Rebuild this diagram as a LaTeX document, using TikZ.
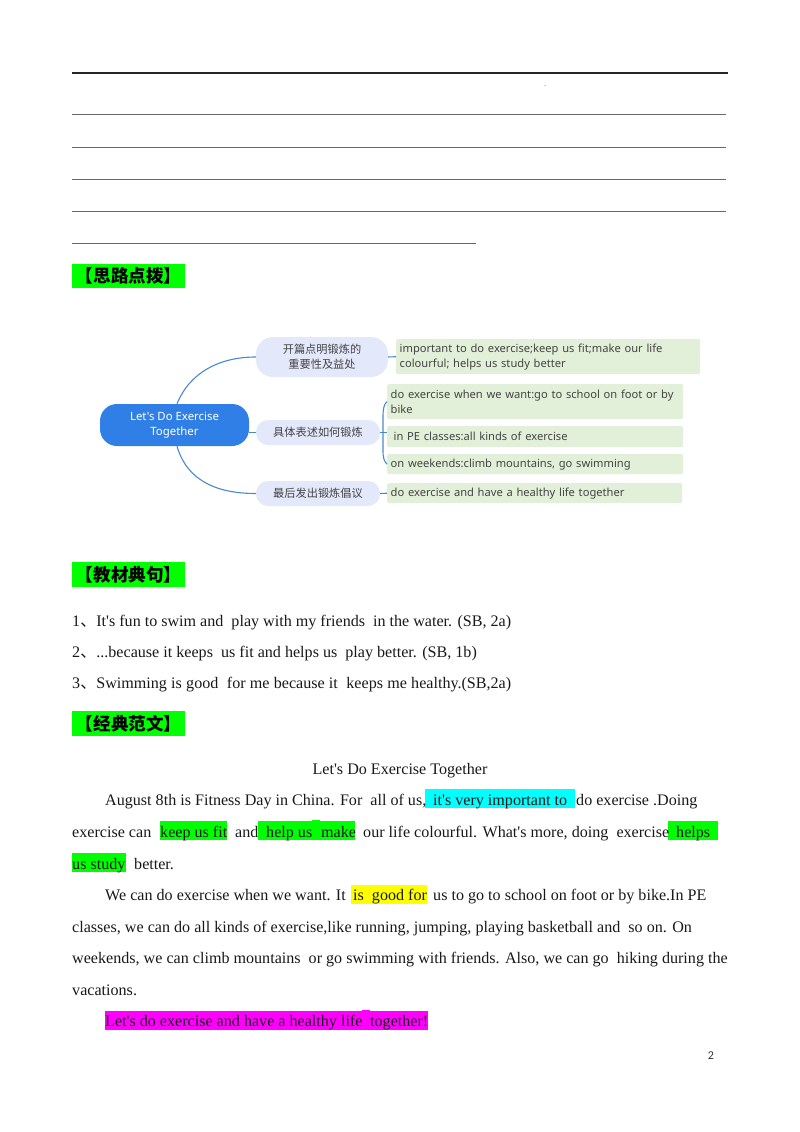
\documentclass[tikz,border=0pt]{standalone}
\usepackage{fontspec}
\setmainfont{Liberation Serif}[Ligatures=TeXOff]
\newfontfamily\cjk{Noto Sans CJK SC}
\newfontfamily\mapfont{Noto Sans}
\newfontfamily\pagefont{Carlito}
\definecolor{hlgreen}{HTML}{00FF00}
\definecolor{hlcyan}{HTML}{00FFFF}
\definecolor{hlyellow}{HTML}{FFFF00}
\definecolor{hlpink}{HTML}{FF00FF}
\definecolor{rootblue}{HTML}{2F7FE6}
\definecolor{branchblue}{HTML}{E3E8FA}
\definecolor{leafgreen}{HTML}{E2F0D9}
\definecolor{linkblue}{HTML}{4A88CC}
\definecolor{mapgray}{HTML}{444444}
\tikzset{
  rulethin/.style={draw=black!60, line width=0.9pt},
  heading/.style={fill=hlgreen, anchor=north west, minimum width=113pt, minimum height=24.5pt, inner sep=0pt, font=\cjk\bfseries\fontsize{17.6}{18}\selectfont},
  bodytext/.style={anchor=base west, inner sep=0pt, font=\fontsize{16.1}{18}\selectfont, text=black!90},
  rootnode/.style={fill=rootblue, text=white, rounded corners=17pt, minimum width=149pt, minimum height=42pt, inner sep=0pt, align=center, font=\mapfont\fontsize{11.4}{15}\selectfont},
  branch/.style={fill=branchblue, text=mapgray, rounded corners=12pt, inner sep=0pt, align=center, font=\cjk\fontsize{11.2}{15}\selectfont},
  leaf/.style={fill=leafgreen, text=mapgray, rounded corners=1.5pt, anchor=north west, inner xsep=3.5pt, inner ysep=0pt, align=left, font=\mapfont\fontsize{11.15}{15}\selectfont},
  link/.style={draw=linkblue, line width=1.1pt}
}
\begin{document}
\begin{tikzpicture}[x=1pt,y=-1pt]
  \useasboundingbox (0,0) rectangle (800,1132);
  % Answer lines
  \draw[black!85, line width=1.4pt] (72,73) -- (728,73);
  \draw[rulethin] (72,114.5) -- (726,114.5);
  \draw[rulethin] (72,147) -- (726,147);
  \draw[rulethin] (72,179) -- (726,179);
  \draw[rulethin] (72,211) -- (726,211);
  \draw[rulethin] (72,243) -- (476,243);
  \fill[black!50] (545,85.5) circle (0.5);

  % Headings
  \node[heading] (headidea) at (72,263.5) {【思路点拨】};
  \node[heading] (headsent) at (72,562) {【教材典句】};
  \node[heading] (headmodel) at (72,711) {【经典范文】};

  % Mind map
  \node[rootnode] (root) at (174.5,425) {Let's Do Exercise\\Together};
  \node[branch, minimum width=132pt, minimum height=40pt, rounded corners=17pt] (open) at (322,357) {开篇点明锻炼的\\重要性及益处};
  \node[branch, minimum width=124pt, minimum height=25pt] (how) at (318,432.5) {具体表述如何锻炼};
  \node[branch, minimum width=124pt, minimum height=25pt] (close) at (318,493.5) {最后发出锻炼倡议};
  \node[leaf, text width=297pt, minimum height=35pt] (why) at (396,339) {important to do exercise;keep us fit;make our life\\colourful; helps us study better};
  \node[leaf, text width=289pt, minimum height=35pt] (when) at (387,384) {do exercise when we want:go to school on foot or by\\bike};
  \node[leaf, text width=289pt, minimum height=21pt] (pe) at (387,426) {\hspace{3pt}in PE classes:all kinds of exercise};
  \node[leaf, text width=289pt, minimum height=20pt] (weekend) at (387,454) {on weekends:climb mountains, go swimming};
  \node[leaf, text width=288pt, minimum height=20pt] (together) at (387,483) {do exercise and have a healthy life together};

  % Links
  \draw[link] (root.north) ++(2.5,0) .. controls (190,372) and (220,357) .. (open.west);
  \draw[link] (root.south) ++(2.5,0) .. controls (188,484) and (222,493.5) .. (close.west);
  \draw[link] (root.east |- how.west) -- (how.west);
  \draw[link] (open.east) -- (why.west);
  \draw[link] (how.east) -- (how.east -| pe.west);
  \draw[link] (close.east) -- (together.west);
  \draw[link] (when.west) .. controls (384,404) and (383,409) .. (383,417) -- (383,450) .. controls (383,458) and (384,461) .. (weekend.west);

  % Sentences
  \node[bodytext] (sentone) at (72,626) {\makebox[439pt][s]{1{\cjk 、}It's fun to swim and\ \ play with my friends\ \ in the water. (SB, 2a)}};
  \node[bodytext] (senttwo) at (72,657) {2{\cjk 、}...because it keeps\ \ us fit and helps us\ \ play better. (SB, 1b)};
  \node[bodytext] (sentthree) at (72,688) {\makebox[439pt][s]{3{\cjk 、}Swimming is good\ \ for me because it\ \ keeps me healthy.(SB,2a)}};

  % Highlights
  \fill[hlcyan] (425,789) rectangle (575,808);
  \fill[hlgreen] (160,821) rectangle (227,840);
  \fill[hlgreen] (258,821) rectangle (355,840);
  \fill[hlgreen] (312,820) rectangle (320,824);
  \fill[hlgreen] (668,821) rectangle (718,840);
  \fill[hlgreen] (72,853) rectangle (126,872);
  \fill[hlyellow] (351,885) rectangle (427,904);
  \fill[hlpink] (105,1011) rectangle (428,1029.5);
  \fill[hlpink] (362,1009.5) rectangle (370,1013);

  % Model essay
  \node[bodytext, anchor=base] (title) at (400,774) {Let's Do Exercise Together};
  \node[bodytext] (aone) at (105,805) {August 8th is Fitness Day in China. For\ \ all of us,};
  \node[bodytext] (atwo) at (433,805) {it's very important to};
  \node[bodytext] (athree) at (576,805) {do exercise .Doing};
  \node[bodytext] (bone) at (72,837) {exercise can};
  \node[bodytext] (btwo) at (160,837) {keep us fit};
  \node[bodytext] (bthree) at (235,837) {and};
  \node[bodytext] (bfour) at (266,837) {help us};
  \node[bodytext] (bfive) at (321,837) {make};
  \node[bodytext] (bsix) at (363,837) {our life colourful. What's more, doing\ \ exercise};
  \node[bodytext] (bseven) at (676,837) {helps};
  \node[bodytext] (cone) at (72,869) {us study};
  \node[bodytext] (ctwo) at (134,869) {better.};
  \node[bodytext] (done) at (105,900) {We can do exercise when we want. It};
  \node[bodytext] (dtwo) at (353,900) {is\ \ good for};
  \node[bodytext] (dthree) at (433,900) {us to go to school on foot or by bike.In PE};
  \node[bodytext] (eone) at (72,932) {classes, we can do all kinds of exercise,like running, jumping, playing basketball and\ \ so on. On};
  \node[bodytext] (fone) at (72,963) {weekends, we can climb mountains\ \ or go swimming with friends. Also, we can go\ \ hiking during the};
  \node[bodytext] (gone) at (72,995) {vacations.};
  \node[bodytext] (hone) at (105,1026) {Let's do exercise and have a healthy life};
  \node[bodytext] (htwo) at (370,1026) {together!};

  % Page number
  \node[anchor=base, inner sep=0pt, font=\pagefont\fontsize{12}{14}\selectfont, text=black!80] (pagenum) at (711,1059) {2};
\end{tikzpicture}
\end{document}
